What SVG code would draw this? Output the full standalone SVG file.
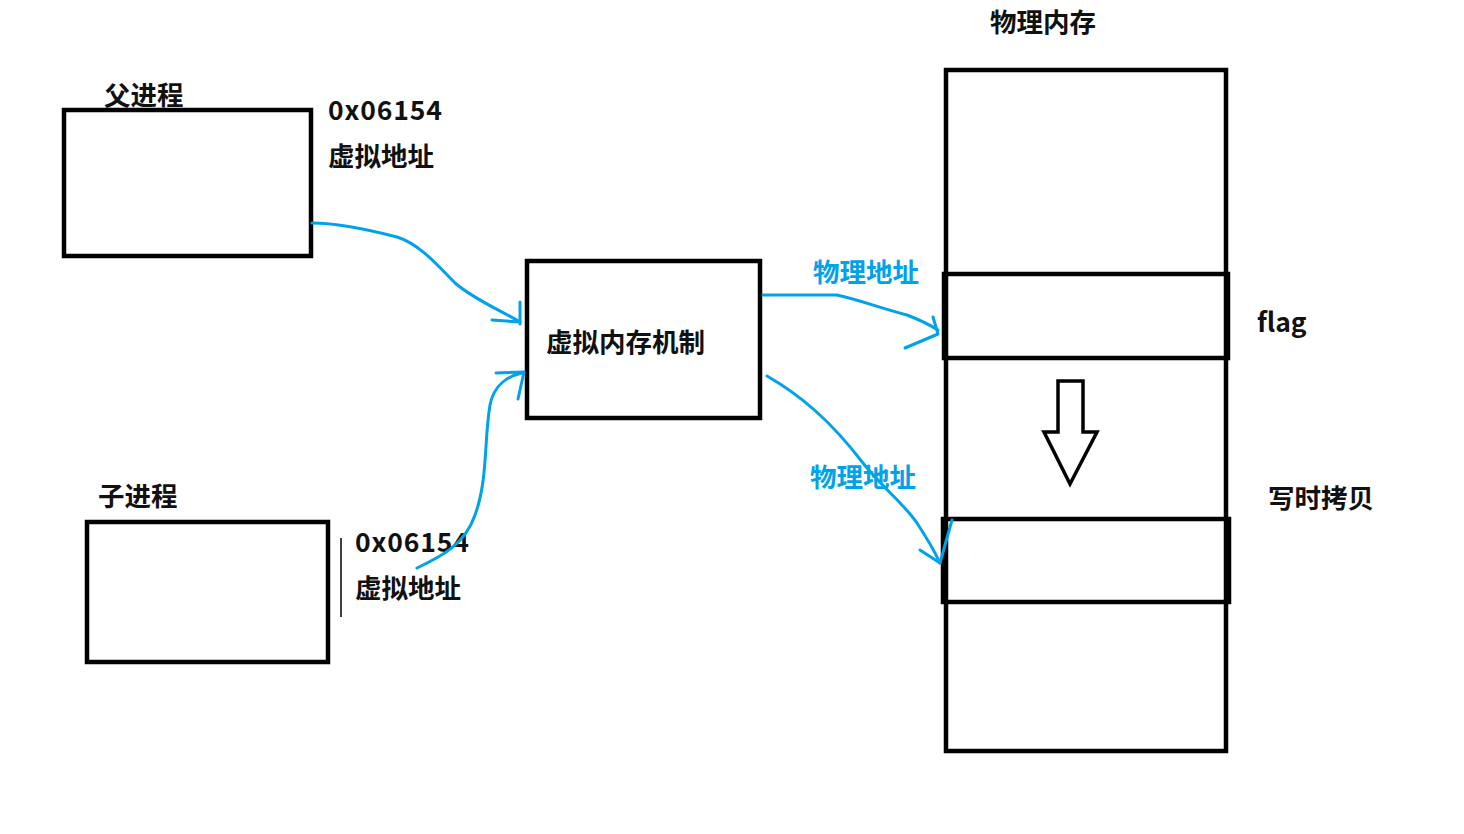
<svg xmlns="http://www.w3.org/2000/svg" width="1464" height="834" viewBox="0 0 1464 834">
<style>
.box{fill:none;stroke:#000;stroke-width:4.5}
.t{font-family:"Noto Sans CJK SC","Noto Sans",sans-serif;font-weight:bold;font-size:26.5px;fill:#111}
.b{font-family:"Noto Sans CJK SC","Noto Sans",sans-serif;font-weight:bold;font-size:26.5px;fill:#00a2e8}
.c{fill:none;stroke:#00a2e8;stroke-width:3;stroke-linecap:round;stroke-linejoin:round}
</style>
<rect width="1464" height="834" fill="#fff"/>
<g id="parent">
<rect class="box" x="64" y="110" width="247" height="146"/>
<text class="t" x="104" y="105">父进程</text>
<text class="t" x="328" y="120" textLength="114">0x06154</text>
<text class="t" x="328" y="166">虚拟地址</text>
</g>
<g id="child">
<rect class="box" x="87" y="522" width="241" height="140"/>
<text class="t" x="98" y="506">子进程</text>
<line x1="341" y1="538" x2="341" y2="617" stroke="#000" stroke-width="1.5"/>
<text class="t" x="355" y="552" textLength="114">0x06154</text>
<text class="t" x="355" y="598">虚拟地址</text>
</g>
<g id="vmm">
<rect class="box" x="527" y="261" width="233" height="157"/>
<text class="t" x="546" y="352">虚拟内存机制</text>
</g>
<g id="physmem">
<text class="t" x="990" y="32">物理内存</text>
<rect class="box" x="946" y="70" width="280" height="681"/>
<rect class="box" x="944" y="274" width="284" height="84"/>
<rect class="box" x="943" y="519" width="286" height="83"/>
<text class="t" x="1257" y="332">flag</text>
<text class="t" x="1268" y="508">写时拷贝</text>
<path d="M1058,381 L1083,381 L1083,432 L1097,432 L1070,484 L1044,432 L1058,432 Z" fill="#fff" stroke="#000" stroke-width="3.5" stroke-linejoin="miter"/>
</g>
<g id="connectors">
<path class="c" d="M312,223 C340,223 370,230 397,237 C420,244 440,268 455,283 C475,300 500,310 520,322"/>
<path class="c" d="M492,320 L520,322 M520,302 L520,324"/>
<path class="c" d="M417,568 C440,557 465,545 475,515 C488,480 484,440 490,405 C494,385 508,376 522,373"/>
<path class="c" d="M496,373 L524,372 L518,399"/>
<path class="c" d="M763,295 L837,295 C860,300 880,308 907,315 C920,320 930,325 938,330"/>
<path class="c" d="M933,317 L938,334 L905,348"/>
<path class="c" d="M767,376 C800,395 830,420 863,463 C880,485 905,505 917,523 C928,540 935,552 940,563"/>
<path class="c" d="M920,550 L940,563 L952,520"/>
<text class="b" x="813" y="282">物理地址</text>
<text class="b" x="810" y="487">物理地址</text>
</g>
</svg>
